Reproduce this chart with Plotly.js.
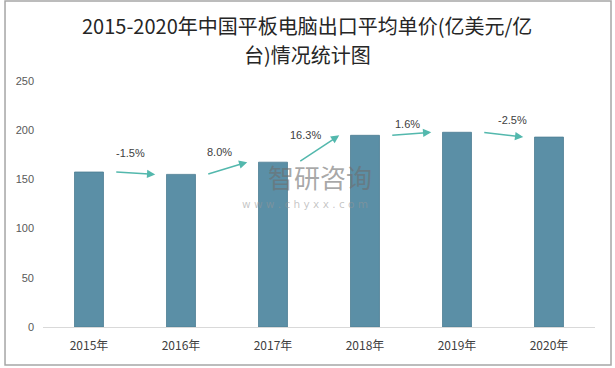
<!DOCTYPE html>
<html>
<head>
<meta charset="utf-8">
<script src="https://cdn.plot.ly/plotly-3.0.1.min.js"></script>
<style>
html,body{margin:0;padding:0;background:#fff;}
#chart{width:615px;height:368px;}
</style>
</head>
<body>
<div id="chart"></div>
<script>
var years = ["2015年", "2016年", "2017年", "2018年", "2019年", "2020年"];
var prices = [157.5, 155.1, 167.5, 194.8, 197.9, 193.0];
var growthLabels = ["-1.5%", "8.0%", "16.3%", "1.6%", "-2.5%"];
var titleLine1 = "2015-2020年中国平板电脑出口平均单价(亿美元/亿";
var titleLine2 = "台)情况统计图";

var barColor = "#5b8fa6";
var arrowColor = "#53b8ad";

var trace = {
  type: "bar",
  x: years,
  y: prices,
  marker: {color: barColor, line: {color: "#4d7d93", width: 0.8}},
  width: 0.315,
  hoverinfo: "x+y"
};

// label horizontal offsets (px) and vertical offsets (px) relative to arrow midpoint
var labelDx = [-5, -8, -14, -4, 9];
var labelDy = [20, 16, 14, 10, 15];

var annotations = [];
for (var i = 0; i < growthLabels.length; i++) {
  annotations.push({
    x: i + 0.72, y: prices[i + 1], xref: "x", yref: "y",
    ax: i + 0.28, ay: prices[i], axref: "x", ayref: "y",
    text: "", showarrow: true, arrowhead: 2, arrowsize: 1.1,
    arrowwidth: 1.5, arrowcolor: arrowColor, standoff: 0, startstandoff: 0
  });
  annotations.push({
    x: i + 0.5, y: (prices[i] + prices[i + 1]) / 2, xref: "x", yref: "y",
    text: growthLabels[i], showarrow: false,
    xshift: labelDx[i], yshift: labelDy[i],
    font: {family: "Liberation Sans, Arial, sans-serif", size: 11, color: "#404040"}
  });
}
// title as two lines (paper coords: y=1 is plot top)
var titleFont = {family: "Noto Sans CJK SC", size: 20, color: "#262626"};
annotations.push({
  x: 0.5, y: 1.2276, xref: "paper", yref: "paper", showarrow: false,
  xanchor: "center", yanchor: "middle", text: titleLine1, font: titleFont,
  xshift: -12
});
annotations.push({
  x: 0.5, y: 1.1057, xref: "paper", yref: "paper", showarrow: false,
  xanchor: "center", yanchor: "middle", text: titleLine2, font: titleFont,
  xshift: -12
});
// watermark
annotations.push({
  x: 0.502, y: 0.61, xref: "paper", yref: "paper", showarrow: false,
  text: "智研咨询", font: {family: "Noto Sans CJK SC", size: 26, color: "rgba(110,110,110,0.6)"}
});
annotations.push({
  x: 0.475, y: 0.5, xref: "paper", yref: "paper", showarrow: false,
  text: "w w w . c h y x x . c o m", font: {family: "DejaVu Sans", size: 10.5, color: "rgba(150,150,150,0.55)"}
});

var layout = {
  width: 615, height: 368,
  margin: {l: 43, r: 20, t: 81, b: 41, pad: 0},
  paper_bgcolor: "#ffffff", plot_bgcolor: "#ffffff",
  showlegend: false,
  xaxis: {
    type: "category",
    showgrid: false, zeroline: false,
    showline: true, linecolor: "#d9d9d9", linewidth: 1,
    ticks: "", ticklabelstandoff: 8,
    tickfont: {family: "Noto Sans CJK SC", size: 12, color: "#404040"},
    range: [-0.5, 5.5]
  },
  yaxis: {
    range: [0, 250], dtick: 50, tick0: 0,
    showgrid: false, zeroline: false, showline: false,
    ticks: "", ticklabelstandoff: 8,
    tickfont: {family: "Liberation Sans, Arial, sans-serif", size: 11, color: "#595959"}
  },
  annotations: annotations,
  shapes: [{
    type: "rect", xref: "paper", yref: "paper",
    x0: -0.0688, x1: 1.029, y0: -0.1545, y1: 1.325,
    line: {color: "#a6a6a6", width: 1.5}, fillcolor: "rgba(0,0,0,0)", layer: "below"
  }]
};

Plotly.newPlot("chart", [trace], layout, {displayModeBar: false, staticPlot: true});
</script>
</body>
</html>
